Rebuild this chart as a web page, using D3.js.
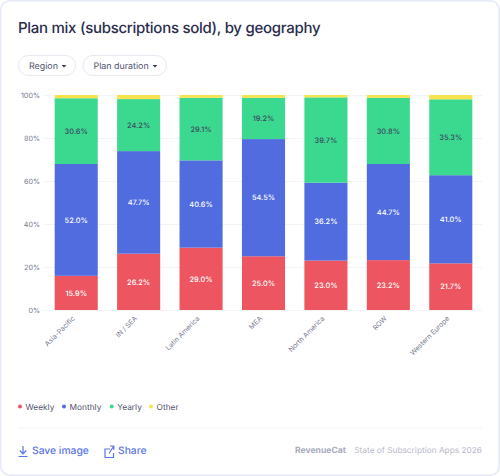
<!DOCTYPE html>
<html>
<head>
<meta charset="utf-8">
<script src="https://cdn.jsdelivr.net/npm/d3@7"></script>
<style>
html,body{margin:0;padding:0;background:#fff;}
svg{display:block;font-family:Inter,"Open Sans",sans-serif;text-rendering:geometricPrecision;}
</style>
</head>
<body>
<svg id="chart" width="500" height="476"></svg>
<script>
const regions = ["Asia-Pacific","IN / SEA","Latin America","MEA","North America","ROW","Western Europe"];
const weekly  = [15.9,26.2,29.0,25.0,23.0,23.2,21.7];
const monthly = [52.0,47.7,40.6,54.5,36.2,44.7,41.0];
const yearly  = [30.6,24.2,29.1,19.2,39.7,30.8,35.3];
const other   = [1.5,1.9,1.3,1.3,1.1,1.3,2.0];
const seriesNames = ["Weekly","Monthly","Yearly","Other"];
const seriesColors = ["#ed5660","#516cdf","#3bd98f","#f8e34f"];
const labelColors = ["#ffffff","#ffffff","#3b4a63",null];
const yTicks = [0,20,40,60,80,100];

const svg = d3.select("#chart");
const ink = "#2b2d4e", muted = "#77798f", accent = "#5a75e6";

// Card
svg.append("rect").attr("x",0.75).attr("y",0.75).attr("width",498.5).attr("height",474.5)
  .attr("rx",9).attr("fill","#fff").attr("stroke","#e6e9f8").attr("stroke-width",1.5);

svg.append("text").attr("x",18).attr("y",32.5).attr("font-size",15).attr("font-weight",500)
  .attr("letter-spacing",-0.28).attr("fill",ink).text("Plan mix (subscriptions sold), by geography");

// Filter pills
[["Region",18,58],["Plan duration",82.5,84.5]].forEach(([t,x,w])=>{
  svg.append("rect").attr("x",x+0.5).attr("y",55.5).attr("width",w-1).attr("height",20).attr("rx",10)
    .attr("fill","#fff").attr("stroke","#e8e9f0");
  svg.append("text").attr("x",x+11).attr("y",68.8).attr("font-size",8.9).attr("fill","#50526d").text(t);
  const cx = x+w-12;
  svg.append("path").attr("d",`M${cx-2.5},65 L${cx+2.5},65 L${cx},67.6 Z`).attr("fill","#3a3c58");
});

// Plot
const x = d3.scaleBand().domain(regions).range([45,482]).paddingInner(0.31).paddingOuter(0.155);
const y = d3.scaleLinear().domain([0,100]).range([310,95]);

const yAxis = d3.axisLeft(y).tickValues(yTicks).tickFormat(d=>d+"%").tickSize(0).tickPadding(5);
const yG = svg.append("g").attr("transform","translate(45,0)").call(yAxis);
yG.select(".domain").remove();
yG.selectAll("text").attr("font-size",7.2).attr("fill",muted).attr("font-family","Inter,sans-serif");
yG.selectAll(".tick").append("line").attr("x1",0).attr("x2",437).attr("stroke","#f2f3f7");

const rows = regions.map((r,i)=>({region:r,Weekly:weekly[i],Monthly:monthly[i],Yearly:yearly[i],Other:other[i]}));
const stacked = d3.stack().keys(seriesNames)(rows);

stacked.forEach((layer,si)=>{
  const g = svg.append("g");
  g.selectAll("rect").data(layer).join("rect")
    .attr("x",d=>x(d.data.region)).attr("width",x.bandwidth())
    .attr("y",d=>y(d[1])).attr("height",d=>y(d[0])-y(d[1]))
    .attr("fill",seriesColors[si]);
  if(labelColors[si]){
    g.selectAll("text").data(layer).join("text")
      .attr("x",d=>x(d.data.region)+x.bandwidth()/2)
      .attr("y",d=>y((d[0]+d[1])/2)+2.8)
      .attr("text-anchor","middle").attr("font-size",7.4).attr("font-weight",500)
      .attr("fill",labelColors[si])
      .text(d=>(d[1]-d[0]).toFixed(1)+"%");
  }
});

// Slanted region labels
svg.append("g").selectAll("text").data(regions).join("text")
  .attr("transform",d=>`translate(${x(d)+x.bandwidth()/2-1},319) rotate(-45)`)
  .attr("text-anchor","end").attr("font-size",6.9).attr("fill",muted).text(d=>d);

// Legend
const legendX = [20,64,111.7,151];
seriesNames.forEach((n,i)=>{
  svg.append("circle").attr("cx",legendX[i]).attr("cy",406.5).attr("r",2).attr("fill",seriesColors[i]);
  svg.append("text").attr("x",legendX[i]+5.6).attr("y",409.6).attr("font-size",8.3).attr("fill","#50526d").text(n);
});

svg.append("line").attr("x1",18).attr("x2",482).attr("y1",428).attr("y2",428).attr("stroke","#f3f4f8");

// Footer actions
svg.append("path").attr("d","M23,446 V453.5 M19.8,450.5 L23,453.8 L26.2,450.5 M18.5,456.5 H27.5")
  .attr("fill","none").attr("stroke",accent).attr("stroke-width",1.2);
svg.append("text").attr("x",32).attr("y",454).attr("font-size",10.3).attr("font-weight",500).attr("fill",accent).text("Save image");
svg.append("path").attr("d","M110,449 H105 V457.5 H113.5 V453 M109,453.5 L113.5,446.5 M110,446 H113.8 V449.8")
  .attr("fill","none").attr("stroke",accent).attr("stroke-width",1.2);
svg.append("text").attr("x",118).attr("y",454).attr("font-size",10.3).attr("font-weight",500).attr("fill",accent).text("Share");

svg.append("text").attr("x",295).attr("y",452.5).attr("font-size",8.6).attr("font-weight",700).attr("fill","#a9abbd").text("RevenueCat");
svg.append("text").attr("x",482).attr("y",452.5).attr("text-anchor","end").attr("font-size",8.3).attr("fill","#b6b8c8").text("State of Subscription Apps 2026");
</script>
</body>
</html>
